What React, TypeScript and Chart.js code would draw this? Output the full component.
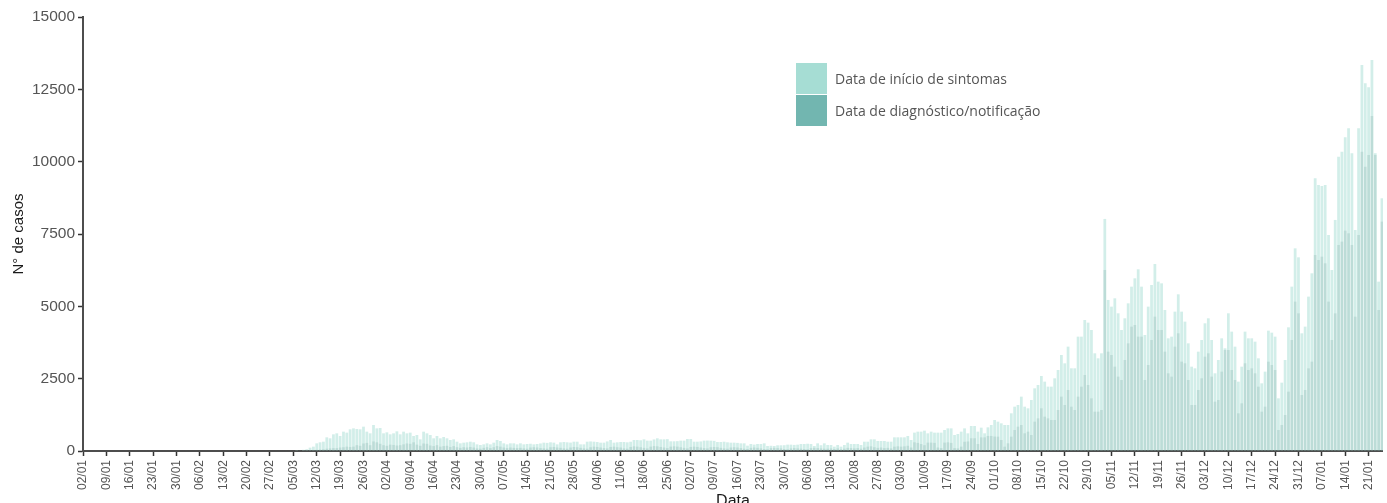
import { useEffect, useRef } from 'react';
import { Chart, registerables } from 'chart.js';

Chart.register(...registerables);

// Daily cases, one value per day starting 02/01/2020 (390 days, to 25/01/2021)
const SINTOMAS: number[] = [
  0, 0, 0, 0, 0, 0, 0, 0, 0, 0,
  0, 0, 0, 0, 0, 0, 0, 0, 0, 0,
  0, 0, 0, 0, 0, 0, 0, 0, 0, 0,
  0, 0, 0, 0, 0, 0, 0, 0, 0, 0,
  0, 0, 0, 0, 0, 0, 0, 0, 0, 0,
  0, 0, 0, 0, 0, 0, 0, 0, 0, 0,
  0, 0, 0, 0, 5, 15, 40, 60, 115, 150,
  265, 300, 322, 472, 438, 576, 611, 518, 668, 634,
  749, 783, 760, 749, 841, 668, 611, 899, 783, 795,
  611, 645, 576, 611, 680, 576, 668, 611, 634, 518,
  553, 403, 668, 611, 553, 438, 518, 438, 484, 438,
  380, 403, 322, 265, 288, 300, 322, 300, 230, 207,
  230, 265, 230, 288, 380, 346, 265, 230, 265, 265,
  230, 265, 230, 242, 250, 230, 242, 260, 288, 280,
  300, 288, 230, 300, 310, 300, 290, 322, 322, 230,
  230, 322, 330, 322, 310, 288, 288, 330, 380, 288,
  300, 311, 311, 300, 320, 380, 380, 370, 403, 357,
  357, 400, 438, 403, 403, 410, 334, 334, 340, 357,
  357, 415, 415, 322, 322, 330, 357, 360, 357, 350,
  311, 311, 320, 300, 288, 288, 280, 265, 265, 184,
  242, 220, 242, 242, 265, 173, 180, 173, 196, 196,
  200, 219, 219, 210, 219, 242, 242, 250, 242, 173,
  265, 200, 265, 207, 207, 150, 207, 150, 207, 288,
  242, 242, 242, 207, 322, 322, 403, 403, 346, 346,
  346, 322, 322, 472, 472, 472, 472, 518, 380, 634,
  668, 668, 703, 611, 668, 634, 634, 634, 726, 783,
  783, 553, 588, 668, 783, 611, 864, 864, 668, 806,
  611, 818, 899, 1072, 1014, 956, 899, 899, 1302, 1532,
  1590, 1878, 1532, 1475, 1763, 2166, 2281, 2592, 2397, 2224,
  2224, 2512, 2800, 3318, 3030, 3606, 2858, 2858, 3952, 3952,
  4528, 4436, 4183, 3376, 3203, 3376, 8020, 5220, 4989, 5277,
  4759, 4183, 4586, 5104, 5680, 5968, 6280, 5680, 4010, 4989,
  5738, 6464, 5853, 5795, 4874, 3894, 3952, 4816, 5415, 4816,
  4471, 3721, 2915, 2858, 3433, 3837, 4413, 4586, 3837, 2685,
  3145, 3894, 3549, 4759, 4125, 3606, 2397, 2915, 4125, 3894,
  3894, 3779, 3203, 2339, 2742, 4159, 4090, 3952, 1820, 2362,
  3145, 4274, 5680, 7005, 6694, 4067, 4298, 5335, 6141, 9424,
  9195, 9160, 9195, 7466, 6256, 7985, 10174, 10346, 10842, 11153,
  10289, 7639, 11153, 13342, 12709, 12571, 13515, 10289, 5853, 8734,
];

const DIAGNOSTICO: number[] = [
  0, 0, 0, 0, 0, 0, 0, 0, 0, 0,
  0, 0, 0, 0, 0, 0, 0, 0, 0, 0,
  0, 0, 0, 0, 0, 0, 0, 0, 0, 0,
  0, 0, 0, 0, 0, 0, 0, 0, 0, 0,
  0, 0, 0, 0, 0, 0, 0, 0, 0, 0,
  0, 0, 0, 0, 0, 0, 0, 0, 0, 0,
  0, 0, 0, 0, 0, 0, 0, 10, 20, 20,
  40, 50, 60, 80, 90, 100, 100, 120, 130, 150,
  140, 150, 200, 180, 260, 280, 200, 330, 300, 250,
  200, 180, 220, 210, 190, 200, 230, 260, 250, 300,
  220, 180, 260, 250, 190, 170, 200, 150, 170, 180,
  140, 170, 130, 110, 130, 120, 140, 120, 90, 80,
  110, 130, 100, 130, 170, 150, 120, 100, 120, 110,
  100, 110, 90, 80, 120, 130, 120, 100, 90, 80,
  130, 140, 120, 110, 90, 80, 120, 140, 130, 110,
  90, 80, 130, 150, 140, 120, 100, 90, 140, 150,
  130, 120, 90, 80, 140, 160, 150, 130, 110, 90,
  150, 170, 160, 140, 120, 100, 150, 160, 150, 130,
  110, 90, 140, 150, 140, 120, 100, 90, 130, 140,
  130, 110, 90, 80, 120, 130, 120, 100, 80, 70,
  110, 120, 110, 90, 70, 60, 100, 110, 100, 90,
  70, 60, 90, 100, 90, 80, 70, 60, 100, 110,
  100, 90, 80, 80, 90, 70, 90, 60, 80, 110,
  100, 90, 100, 80, 120, 150, 160, 130, 110, 120,
  100, 110, 90, 150, 160, 150, 160, 180, 120, 300,
  280, 240, 200, 290, 290, 280, 120, 100, 290, 300,
  280, 100, 90, 150, 320, 330, 440, 440, 240, 470,
  470, 520, 520, 500, 495, 380, 150, 265, 495, 726,
  841, 899, 611, 668, 553, 1014, 1129, 1475, 1187, 1129,
  1072, 1072, 1417, 1878, 1590, 2109, 1532, 1417, 1878, 2224,
  2627, 2281, 1820, 1360, 1360, 1417, 6257, 3433, 3318, 2915,
  2570, 2454, 3145, 3721, 4298, 4355, 3952, 3952, 2454, 2973,
  3837, 4643, 4183, 4183, 3433, 2685, 2570, 3606, 4067, 3088,
  3030, 2454, 1590, 1590, 2109, 2512, 3261, 3376, 2570, 1705,
  1763, 2742, 3491, 3491, 2800, 2454, 1302, 1648, 3030, 2800,
  2857, 2685, 2224, 1360, 1532, 3088, 2973, 2800, 726, 899,
  1244, 2051, 3837, 5162, 4758, 1936, 2109, 2857, 3088, 6775,
  6602, 6717, 6487, 5162, 3837, 4758, 7121, 7236, 7616, 7524,
  7121, 4643, 7466, 10346, 9828, 10232, 11580, 10232, 4874, 7927,
];

// Weekly tick labels (every 7th day starting at 02/01)
const TICK_LABELS: string[] = [
  '02/01', '09/01', '16/01', '23/01', '30/01', '06/02', '13/02', '20/02', '27/02',
  '05/03', '12/03', '19/03', '26/03', '02/04', '09/04', '16/04', '23/04', '30/04',
  '07/05', '14/05', '21/05', '28/05', '04/06', '11/06', '18/06', '25/06', '02/07',
  '09/07', '16/07', '23/07', '30/07', '06/08', '13/08', '20/08', '27/08', '03/09',
  '10/09', '17/09', '24/09', '01/10', '08/10', '15/10', '22/10', '29/10', '05/11',
  '12/11', '19/11', '26/11', '03/12', '10/12', '17/12', '24/12', '31/12', '07/01',
  '14/01', '21/01',
];

const Y_TICKS: number[] = [0, 2500, 5000, 7500, 10000, 12500, 15000];

const SERIES_LABELS: string[] = ['Data de início de sintomas', 'Data de diagnóstico/notificação'];
const LEGEND_COLORS: string[] = ['#a6ddd4', '#72b6b0'];

const FONT = "'Liberation Sans', Arial, Helvetica, sans-serif";

export default function App() {
  const ref = useRef<HTMLCanvasElement>(null);

  useEffect(() => {
    document.body.style.margin = '0';
    const canvas = ref.current;
    if (!canvas) return;
    const chart = new Chart(canvas, {
      type: 'bar',
      data: {
        datasets: [
          {
            label: SERIES_LABELS[0],
            data: SINTOMAS.map((v, i) => ({ x: i, y: v })),
            backgroundColor: 'rgba(166,221,212,0.5)',
            borderWidth: 0,
            order: 1,
            grouped: false,
            barPercentage: 0.82,
            categoryPercentage: 1,
          },
          {
            label: SERIES_LABELS[1],
            data: DIAGNOSTICO.map((v, i) => ({ x: i, y: v })),
            backgroundColor: 'rgba(100,150,145,0.2)',
            borderWidth: 0,
            order: 0,
            grouped: false,
            barPercentage: 0.82,
            categoryPercentage: 1,
          },
        ],
      } as any,
      options: {
        animation: false,
        responsive: false,
        maintainAspectRatio: false,
        layout: { padding: { left: 0, right: 0, top: 17, bottom: 0 } },
        plugins: {
          legend: { display: false },
          tooltip: { enabled: false },
          title: { display: false },
        },
        scales: {
          x: {
            type: 'linear',
            min: 0,
            max: 389.3,
            offset: false,
            afterBuildTicks: (s: any) => {
              s.ticks = TICK_LABELS.map((_, i) => ({ value: i * 7 }));
            },
            afterFit: (s: any) => {
              s.height = 64;
            },
            grid: {
              offset: false,
              drawOnChartArea: false,
              drawTicks: true,
              tickLength: 5,
              tickColor: '#333333',
              tickWidth: 1.5,
            },
            border: { display: true, color: '#4d4d4d', width: 2 },
            ticks: {
              autoSkip: false,
              maxRotation: 90,
              minRotation: 90,
              padding: 4,
              color: '#555555',
              font: { family: FONT, size: 12 },
              callback: (_v: any, i: number) => TICK_LABELS[i],
            },
            title: {
              display: true,
              text: 'Data',
              color: '#1a1a1a',
              font: { family: FONT, size: 16 },
              padding: { top: 0, bottom: 4 },
            },
          },
          y: {
            min: Y_TICKS[0],
            max: Y_TICKS[Y_TICKS.length - 1],
            afterBuildTicks: (s: any) => {
              s.ticks = Y_TICKS.map((v) => ({ value: v }));
            },
            afterFit: (s: any) => {
              s.width = 83;
            },
            grid: {
              drawOnChartArea: false,
              drawTicks: true,
              tickLength: 5,
              tickColor: '#333333',
              tickWidth: 1.5,
            },
            border: { display: true, color: '#4d4d4d', width: 2 },
            ticks: {
              padding: 3,
              color: '#555555',
              font: { family: FONT, size: 15.5 },
              callback: (v: any) => String(v),
            },
            title: {
              display: true,
              text: 'N° de casos',
              color: '#1a1a1a',
              font: { family: FONT, size: 15 },
              padding: { top: 10, bottom: 0 },
            },
          },
        },
      } as any,
    });
    return () => chart.destroy();
  }, []);

  return (
    <div style={{ position: 'relative', width: 1387, height: 503, overflow: 'hidden', background: '#ffffff' }}>
      <canvas ref={ref} width={1387} height={515} style={{ display: 'block', width: 1387, height: 515 }} />
      <div style={{ position: 'absolute', left: 796, top: 63, fontFamily: "'Open Sans', sans-serif", fontSize: 14, color: '#555555' }}>
        {SERIES_LABELS.map((label, i) => (
          <div key={label} style={{ display: 'flex', alignItems: 'center', height: 31, marginBottom: 1 }}>
            <div style={{ width: 31, height: 31, background: LEGEND_COLORS[i] }} />
            <span style={{ marginLeft: 8, whiteSpace: 'nowrap' }}>{label}</span>
          </div>
        ))}
      </div>
    </div>
  );
}
